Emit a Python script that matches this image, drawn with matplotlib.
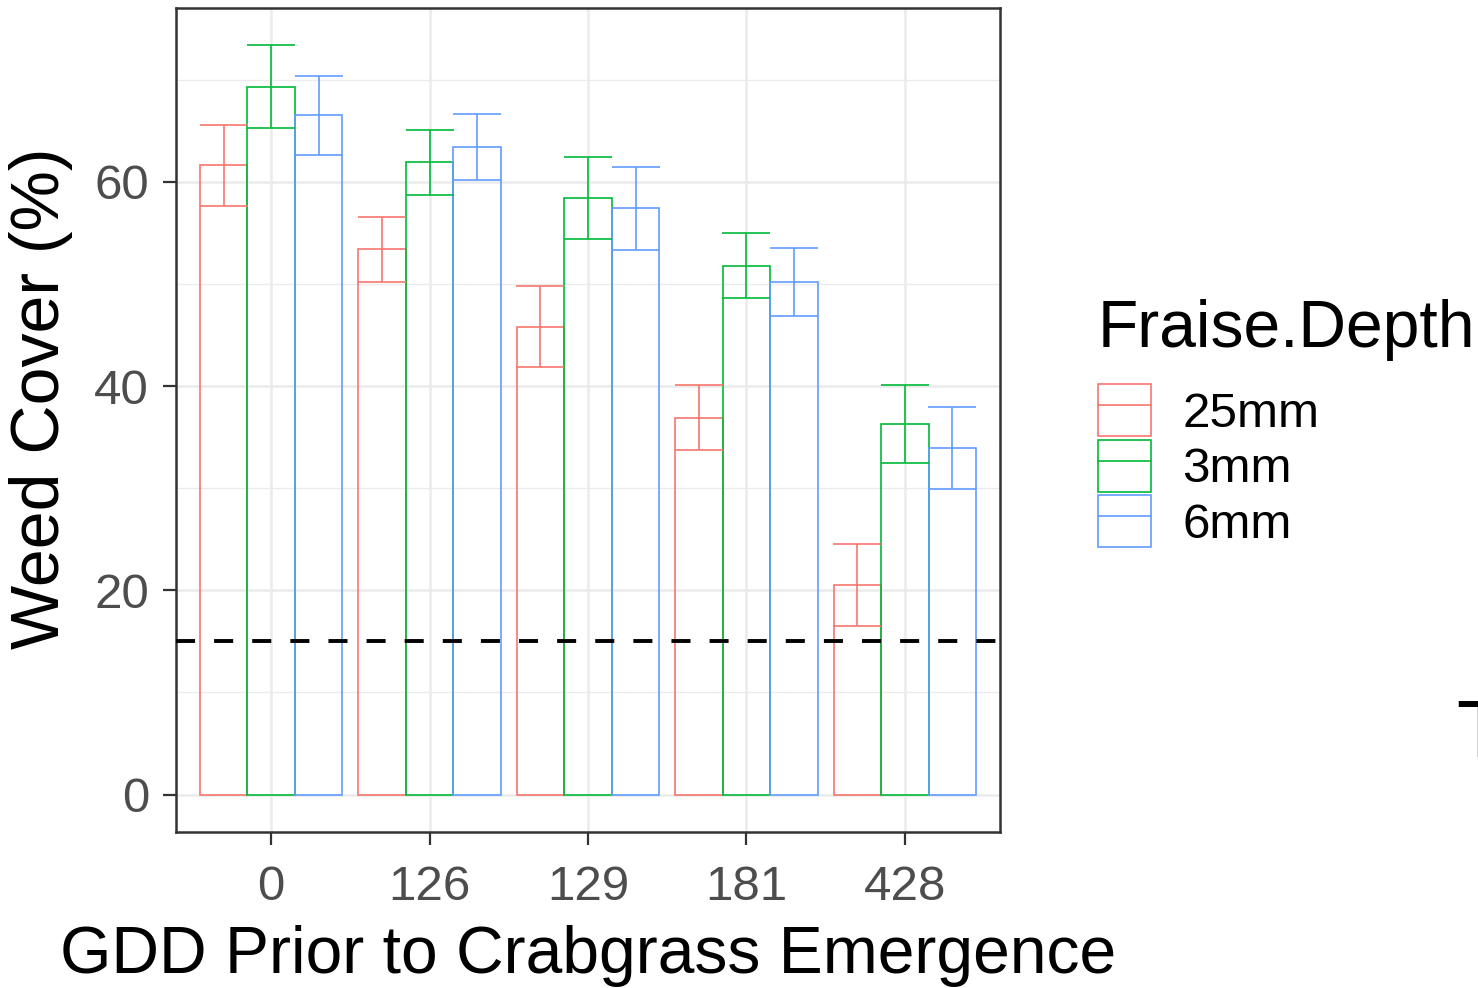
import numpy as np
import matplotlib.pyplot as plt
from matplotlib.patches import Patch
from matplotlib.lines import Line2D
from matplotlib.legend_handler import HandlerTuple

plt.rcParams['font.family'] = ['Liberation Sans', 'DejaVu Sans']

# данные: средние и стандартные ошибки по глубине
gdd = ['0', '126', '129', '181', '428']
depths = ['25mm', '3mm', '6mm']
mean_25 = [61.6, 53.4, 45.8, 36.9, 20.5]
mean_3 = [69.3, 61.9, 58.4, 51.8, 36.3]
mean_6 = [66.5, 63.4, 57.4, 50.2, 33.9]
se_25 = [3.95, 3.2, 3.95, 3.2, 4.0]
se_3 = [4.05, 3.2, 4.0, 3.15, 3.85]
se_6 = [3.85, 3.25, 4.05, 3.35, 4.0]
threshold = 15

means = [mean_25, mean_3, mean_6]
ses = [se_25, se_3, se_6]
colors = ['#F8766D', '#00BA38', '#619CFF']

fig = plt.figure(figsize=(14.78, 9.88), dpi=100)
ax = fig.add_axes([176 / 1478, 1 - 832 / 988, 824 / 1478, 824 / 988])

x = np.arange(len(gdd))
w = 0.3
for i, (m, s, c) in enumerate(zip(means, ses, colors)):
    pos = x + (i - 1) * w
    ax.bar(pos, m, width=w, facecolor='none', edgecolor=c, linewidth=1.2, zorder=3)
    ax.errorbar(pos, m, yerr=s, fmt='none', ecolor=c, elinewidth=1.2,
                capsize=17.0, capthick=1.2, zorder=4)

ax.axhline(threshold, color='black', linewidth=2.8, dashes=(4.9, 4.9), zorder=5)

top = max(max(np.array(m) + np.array(s)) for m, s in zip(means, ses))
pad = 0.05 * top
ax.set_ylim(-pad, top + pad)
ax.set_xlim(-0.6, len(gdd) - 0.4)

ax.set_xticks(x)
ax.set_xticklabels(gdd)
ax.set_yticks([0, 20, 40, 60])
ax.set_yticks([10, 30, 50, 70], minor=True)
ax.grid(which='major', color='#EBEBEB', linewidth=1.8, zorder=0)
ax.grid(which='minor', axis='y', color='#EBEBEB', linewidth=0.9, zorder=0)
ax.set_axisbelow(True)
ax.tick_params(which='major', length=9.4, width=1.6, color='#333333',
               labelsize=35.5, labelcolor='#4D4D4D')
ax.tick_params(axis='x', pad=14)
ax.tick_params(axis='y', pad=10)
ax.tick_params(which='minor', length=0)
for sp in ax.spines.values():
    sp.set_color('#333333')
    sp.set_linewidth(1.8)

ax.set_xlabel('GDD Prior to Crabgrass Emergence', fontsize=47.5)
ax.set_ylabel('Weed Cover (%)', fontsize=49)
ax.xaxis.set_label_coords(0.5, -0.113)
ax.yaxis.set_label_coords(-0.125, 0.526)

handles = [(Patch(facecolor='none', edgecolor=c, linewidth=1.2),
            Line2D([0], [0], color=c, linewidth=1.2)) for c in colors]
fig.legend(handles, depths, loc='upper left',
           bbox_to_anchor=(1098 / 1478, 1 - 384 / 988),
           frameon=False, fontsize=35.5, handlelength=1.075, handleheight=1.246,
           labelspacing=0.06, handletextpad=0.64, borderpad=0, borderaxespad=0,
           handler_map={tuple: HandlerTuple(ndivide=1)})
fig.text(1098 / 1478, 1 - 347 / 988, 'Fraise.Depth', fontsize=47.5,
         va='baseline', ha='left')

fig.text(1456 / 1478, 1 - 757 / 988, 'T', fontsize=58, va='baseline', ha='left')

fig.savefig('out.png', dpi=100)
